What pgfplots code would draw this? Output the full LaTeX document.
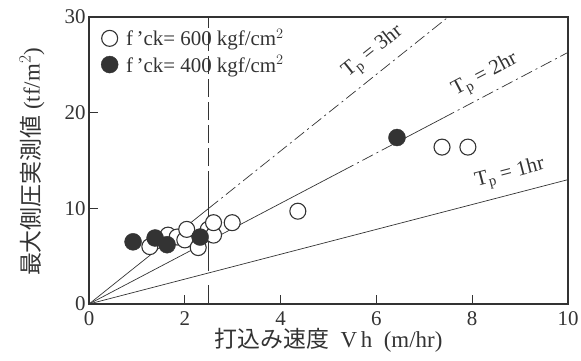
\documentclass[border=0pt]{standalone}
\usepackage{pgfplots}
\pgfplotsset{compat=1.18}
\usepackage{fontspec}
\setmainfont{Liberation Serif}
\newfontfamily\jp{Noto Sans CJK JP}
\definecolor{ink}{gray}{0.2}
\begin{document}
\begin{tikzpicture}
\useasboundingbox (-89bp,-57bp) rectangle (492bp,304bp);
\begin{axis}[
 scale only axis, width=479bp, height=287bp,
 xmin=0, xmax=10, ymin=0, ymax=30,
 axis line style={ink, line width=1.1pt},
 xtick={0,2,4,6,8,10}, ytick={0,10,20,30},
 tick align=inside, tick pos=left, major tick length=9bp,
 tick style={ink, line width=0.9pt},
 ticklabel style={font=\fontsize{21}{22}\selectfont, text=ink},
 xticklabel style={yshift=-4bp},
 /pgf/number format/assume math mode=true,
 xlabel={{\jp 打込み速度}\ \ V\,h\ \ (m/hr)},
 ylabel={{\jp 最大側圧実測値}\ (tf/m$^2$)},
 label style={font=\fontsize{23}{24}\selectfont, text=ink},
 xlabel style={at={(axis description cs:0.5,-0.125)}, anchor=center},
 ylabel style={at={(axis description cs:-0.119,0.495)}, anchor=center},
 legend style={draw=none, fill=none, at={(axis description cs:0.025,0.965)}, anchor=north west,
   font=\fontsize{21}{22}\selectfont, text=ink, row sep=4bp, inner sep=0pt,
   /tikz/every odd column/.append style={column sep=6bp}},
 legend cell align=left,
 clip=true,
]
% Tp lines
\addplot[ink, line width=0.7pt, forget plot] coordinates {(0,0) (2.5,10)};
\addplot[ink, line width=0.7pt, dash pattern=on 12bp off 4bp on 2bp off 4bp, forget plot] coordinates {(2.5,10) (7.5,30)};
\addplot[ink, line width=0.7pt, forget plot] coordinates {(0,0) (5.3,13.94)};
\addplot[ink, line width=0.7pt, dash pattern=on 12bp off 4bp on 2bp off 4bp, forget plot] coordinates {(5.3,13.94) (6.4,16.83)};
\addplot[ink, line width=0.7pt, forget plot] coordinates {(6.4,16.83) (7.4,19.46)};
\addplot[ink, line width=0.7pt, dash pattern=on 12bp off 4bp on 2bp off 4bp, forget plot] coordinates {(7.4,19.46) (10,26.3)};
\addplot[ink, line width=0.7pt, forget plot] coordinates {(0,0) (10,13)};
% vertical line at 2.5
\addplot[ink, line width=0.9pt, forget plot] coordinates {(2.5,0) (2.5,2)};
\addplot[ink, line width=0.7pt, forget plot] coordinates {(2.5,3.5) (2.5,12)};
\addplot[ink, line width=0.7pt, dash pattern=on 18bp off 5bp, forget plot] coordinates {(2.5,12) (2.5,30)};
% data
\addplot[only marks, mark=*, mark size=8bp, mark options={draw=ink, fill=white, line width=1.1pt}] coordinates {
 (1.27,6.0) (1.65,7.2) (1.84,7.0) (2.0,6.7) (2.04,7.8) (2.28,5.9) (2.49,7.8) (2.6,7.2) (2.6,8.5) (2.99,8.5) (4.36,9.7) (7.37,16.4) (7.91,16.4)};
\addlegendentry{f\,'ck= 600 kgf/cm$^2$}
\addplot[only marks, mark=*, mark size=8.5bp, mark options={draw=ink, fill=ink}] coordinates {
 (0.92,6.5) (1.38,6.9) (1.63,6.2) (2.32,7.0) (6.43,17.4)};
\addlegendentry{f\,'ck= 400 kgf/cm$^2$}
% labels
\node[rotate=38.6, font=\fontsize{21}{22}\selectfont, text=ink] at (axis cs:5.93,26.3) {T\textsubscript{p} = 3hr};
\node[rotate=27.7, font=\fontsize{21}{22}\selectfont, text=ink] at (axis cs:8.27,23.9) {T\textsubscript{p} = 2hr};
\node[rotate=14.6, font=\fontsize{21}{22}\selectfont, text=ink] at (axis cs:8.79,13.6) {T\textsubscript{p} = 1hr};
\end{axis}
\end{tikzpicture}
\end{document}
